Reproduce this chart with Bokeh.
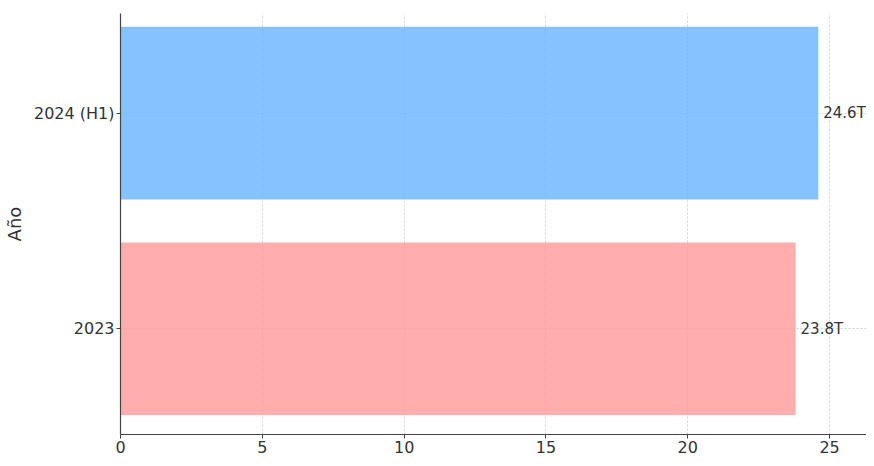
from bokeh.plotting import figure
from bokeh.models import Range1d, FixedTicker, ColumnDataSource, LabelSet
from bokeh.core.properties import value
from bokeh.embed import file_html
from bokeh.resources import INLINE

years = ["2023", "2024 (H1)"]
values = [23.8, 24.6]
labels = ["23.8T", "24.6T"]
colors = ["#ff9999", "#66b3ff"]
x_ticks = [0, 5, 10, 15, 20, 25]

pos = list(range(len(years)))
src = ColumnDataSource(dict(y=pos, v=values, lab=labels, c=colors))

p = figure(output_backend="svg", toolbar_location=None,
           frame_width=746, frame_height=421,
           min_border_left=120, min_border_right=0, min_border_top=13, min_border_bottom=10,
           x_range=Range1d(0, 26.3), y_range=Range1d(-0.49, 1.462))

p.hbar(y="y", right="v", left=0, height=0.8, fill_color="c", fill_alpha=0.8,
       line_color=None, source=src)
p.add_layout(LabelSet(x="v", y="y", text="lab", x_offset=5, text_align="left",
                      text_baseline="middle", text_font_size="15px", text_color="#333333",
                      text_font=value("DejaVu Sans"), source=src))

p.outline_line_color = None
p.xaxis.ticker = FixedTicker(ticks=x_ticks)
p.yaxis.ticker = FixedTicker(ticks=pos)
p.yaxis.major_label_overrides = {i: y for i, y in enumerate(years)}
p.yaxis.axis_label = "Año"
for ax in (p.xaxis, p.yaxis):
    ax.axis_line_color = "#444444"
    ax.axis_line_width = 1.2
    ax.major_tick_line_color = "#444444"
    ax.major_tick_out = 4
    ax.major_tick_in = 0
    ax.minor_tick_line_color = None
    ax.major_label_text_font = "DejaVu Sans"
    ax.major_label_text_font_size = "16px"
    ax.major_label_text_color = "#333333"
    ax.major_label_standoff = 2
p.yaxis.axis_label_text_font = "DejaVu Sans"
p.yaxis.axis_label_text_font_size = "18px"
p.yaxis.axis_label_text_font_style = "normal"
p.yaxis.axis_label_text_color = "#333333"
p.yaxis.axis_label_standoff = 6

for g in (p.xgrid, p.ygrid):
    g.grid_line_color = "#cccccc"
    g.grid_line_dash = "2 2"
    g.grid_line_width = 1
    g.grid_line_alpha = 0.9
p.xgrid.ticker = FixedTicker(ticks=x_ticks)
p.ygrid.ticker = FixedTicker(ticks=pos)

open("out.html", "w").write(file_html(p, INLINE))
